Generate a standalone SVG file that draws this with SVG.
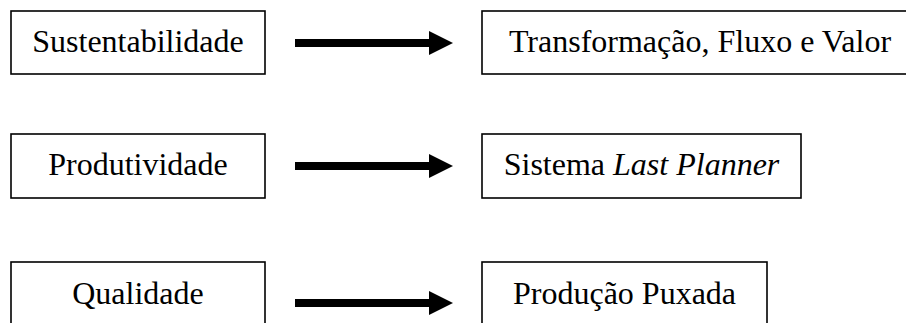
<svg xmlns="http://www.w3.org/2000/svg" width="906" height="323" viewBox="0 0 906 323">
<style>
.box{fill:#fff;stroke:#000;stroke-width:1.6}
.t{font-family:"Liberation Serif","Times New Roman",serif;font-size:32px;fill:#000;text-anchor:middle}
.conn{stroke:#000;stroke-width:8;fill:none}
</style>
<defs>
<marker id="ah" markerUnits="userSpaceOnUse" markerWidth="24" markerHeight="24" refX="0" refY="12" orient="auto" viewBox="0 0 24 24">
<path d="M0,0 L24,12 L0,24 Z" fill="#000"/>
</marker>
</defs>
<rect width="906" height="323" fill="#fff"/>
<g id="n-sustentabilidade"><rect class="box" x="11" y="11" width="254" height="63"/><text class="t" x="138" y="52">Sustentabilidade</text></g>
<g id="n-transformacao"><rect class="box" x="482" y="11" width="440" height="63"/><text class="t" x="700" y="52">Transformação, Fluxo e Valor</text></g>
<g id="n-produtividade"><rect class="box" x="11" y="134" width="254" height="64"/><text class="t" x="138" y="175">Produtividade</text></g>
<g id="n-lastplanner"><rect class="box" x="482" y="134" width="319" height="64"/><text class="t" x="641.5" y="175">Sistema <tspan font-style="italic">Last Planner</tspan></text></g>
<g id="n-qualidade"><rect class="box" x="11" y="262" width="254" height="70"/><text class="t" x="138" y="304">Qualidade</text></g>
<g id="n-producao"><rect class="box" x="482" y="262" width="285" height="70"/><text class="t" x="624.5" y="304">Produção Puxada</text></g>
<g id="connectors">
<line class="conn" x1="295" y1="43" x2="429" y2="43" marker-end="url(#ah)"/>
<line class="conn" x1="295" y1="166" x2="429" y2="166" marker-end="url(#ah)"/>
<line class="conn" x1="295" y1="303" x2="429" y2="303" marker-end="url(#ah)"/>
</g>
</svg>
